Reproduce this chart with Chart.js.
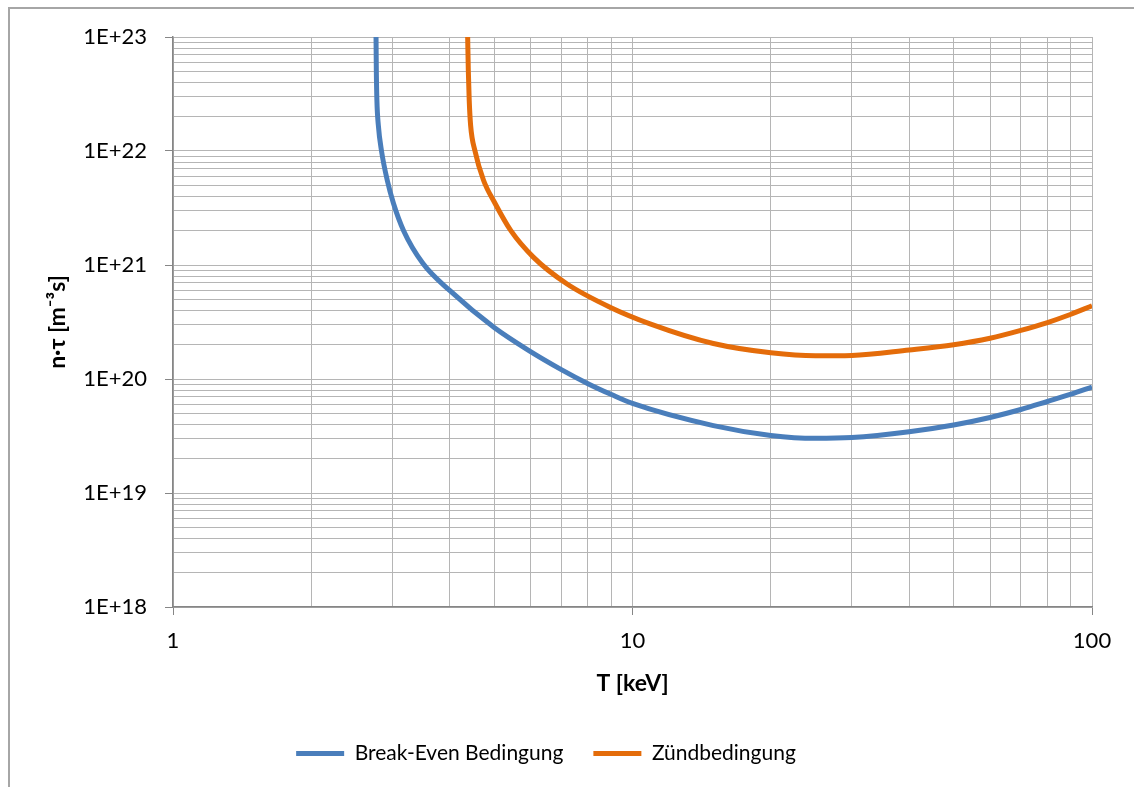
<!DOCTYPE html>
<html>
<head>
<meta charset="utf-8">
<script src="https://cdn.jsdelivr.net/npm/chart.js@4.4.0/dist/chart.umd.min.js"></script>
<style>
  html, body { margin: 0; padding: 0; background: #fff; }
  #frame { position: absolute; left: 8px; top: 7px; width: 1400px; height: 1000px;
           border-left: 2px solid #a6a6a6; border-top: 2px solid #a6a6a6; }
  #c { position: absolute; left: 0; top: 0; }
</style>
</head>
<body>
<div id="frame"></div>
<canvas id="c" width="1134" height="787"></canvas>
<script>
// ---- data ----
const seriesNames = ['Break-Even Bedingung', 'Zündbedingung'];
const breakEvenT  = [2.766, 2.770, 2.778, 2.798, 2.843, 2.926, 3.018, 3.174, 3.5, 4, 5, 6, 7, 8, 9, 10, 15, 20, 25, 30, 40, 50, 60, 70, 80, 90, 100];
const breakEvenNT = [1e23, 5.13e22, 2.795e22, 1.685e22, 1e22, 5.54e21, 3.48e21, 2.01e21, 1.03e21, 5.98e20, 2.83e20, 1.74e20, 1.21e20, 9.1e19, 7.3e19, 6.1e19, 3.9e19, 3.2e19, 3.02e19, 3.07e19, 3.45e19, 3.95e19, 4.6e19, 5.4e19, 6.35e19, 7.35e19, 8.5e19];
const ignitionT   = [4.378, 4.392, 4.412, 4.443, 4.542, 4.740, 5.02, 5.431, 6.083, 7.192, 8.932, 10.92, 15, 20, 25, 30, 40, 50, 60, 70, 80, 90, 100];
const ignitionNT  = [1e23, 5.13e22, 2.795e22, 1.685e22, 1e22, 5.54e21, 3.48e21, 2.01e21, 1.173e21, 6.85e20, 4.27e20, 3.05e20, 2.05e20, 1.7e20, 1.6e20, 1.61e20, 1.8e20, 2.0e20, 2.28e20, 2.67e20, 3.13e20, 3.7e20, 4.38e20];
const xTickValues = [1, 10, 100];
const xTickLabels = ['1', '10', '100'];
const yTickValues = [1e18, 1e19, 1e20, 1e21, 1e22, 1e23];
const yTickLabels = ['1E+18', '1E+19', '1E+20', '1E+21', '1E+22', '1E+23'];
const xTitle = 'T [keV]';
const yTitle = 'n·τ [m⁻³s]';

// ---- helpers ----
const FONT = 'Lato';
const minorSteps = [1, 2, 3, 4, 5, 6, 7, 8, 9];
function gridValues(majors) {
  const out = [];
  for (let i = 0; i < majors.length; i++) {
    if (i === majors.length - 1) { out.push(majors[i]); break; }
    minorSteps.forEach(m => out.push(majors[i] * m));
  }
  return out;
}
function isMajorOf(list, v) { return list.some(m => Math.abs(Math.log10(m) - Math.log10(v)) < 1e-9); }
function labelOf(values, labels, v) {
  for (let i = 0; i < values.length; i++) if (Math.abs(Math.log10(values[i]) - Math.log10(v)) < 1e-9) return labels[i];
  return '';
}
const pts = (xs, ys) => xs.map((x, i) => ({ x: x, y: ys[i] }));

const GRID = '#b5b5b5';
const AXIS = '#868686';

new Chart(document.getElementById('c'), {
  type: 'line',
  data: {
    datasets: [
      { label: seriesNames[0], data: pts(breakEvenT, breakEvenNT), borderColor: '#4a7ebb', backgroundColor: '#4a7ebb',
        borderWidth: 5, pointRadius: 0, cubicInterpolationMode: 'monotone', clip: 0 },
      { label: seriesNames[1], data: pts(ignitionT, ignitionNT), borderColor: '#e46c0a', backgroundColor: '#e46c0a',
        borderWidth: 5, pointRadius: 0, cubicInterpolationMode: 'monotone', clip: 0 }
    ]
  },
  options: {
    responsive: false,
    animation: false,
    layout: { padding: { left: 0, right: 42, top: 37, bottom: 13 } },
    plugins: {
      tooltip: { enabled: false },
      legend: {
        position: 'bottom',
        labels: {
          color: '#000',
          font: { family: FONT, size: 21 },
          boxWidth: 48, boxHeight: 5, padding: 30,
          generateLabels: (chart) => Chart.defaults.plugins.legend.labels.generateLabels(chart)
            .map(l => Object.assign(l, { lineWidth: 0, fillStyle: l.strokeStyle }))
        }
      }
    },
    scales: {
      x: {
        type: 'logarithmic', min: 1, max: 100,
        afterBuildTicks: s => { s.ticks = gridValues(xTickValues).map(v => ({ value: v })); },
        afterFit: s => { s.height = 106; },
        grid: { color: GRID, lineWidth: 1, tickLength: 8,
                tickColor: ctx => (ctx.tick && isMajorOf(xTickValues, ctx.tick.value)) ? AXIS : 'rgba(0,0,0,0)' },
        border: { color: AXIS, width: 1.5 },
        ticks: { autoSkip: false, maxRotation: 0, padding: 13, color: '#000',
                 font: { family: FONT, size: 22 },
                 callback: v => labelOf(xTickValues, xTickLabels, v) },
        title: { display: true, text: xTitle, color: '#000', font: { family: FONT, size: 23, weight: 'bold' },
                 padding: { top: 0, bottom: 16 } }
      },
      y: {
        type: 'logarithmic', min: 1e18, max: 1e23,
        afterBuildTicks: s => { s.ticks = gridValues(yTickValues).map(v => ({ value: v })); },
        afterFit: s => { s.width = 173; },
        grid: { color: GRID, lineWidth: 1, tickLength: 8,
                tickColor: ctx => (ctx.tick && isMajorOf(yTickValues, ctx.tick.value)) ? AXIS : 'rgba(0,0,0,0)' },
        border: { color: AXIS, width: 1.5 },
        ticks: { autoSkip: false, padding: 18, color: '#000',
                 font: { family: FONT, size: 22 },
                 callback: v => labelOf(yTickValues, yTickLabels, v) },
        title: { display: true, text: yTitle, color: '#000', font: { family: FONT, size: 23, weight: 'bold' },
                 padding: { top: 44, bottom: 0 } }
      }
    }
  }
});
</script>
</body>
</html>
